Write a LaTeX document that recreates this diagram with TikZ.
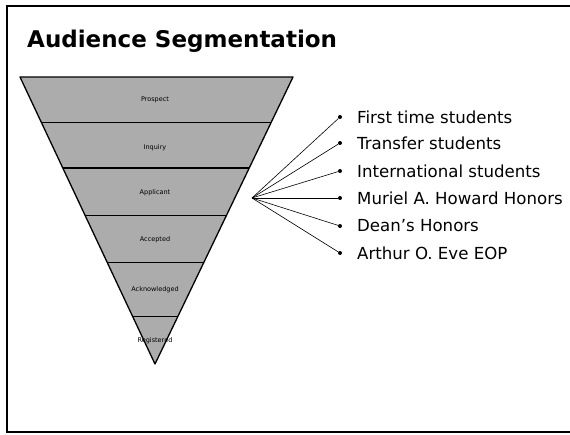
\documentclass[tikz,border=0pt]{standalone}
\usepackage{fontspec}
\setmainfont{DejaVu Sans}
\usetikzlibrary{calc}
\usepackage{xcolor}

\tikzset{
  band/.style={font=\fontsize{6.5}{7}\selectfont, inner sep=0pt},
  item/.style={anchor=west, font=\fontsize{16.6}{19}\selectfont, inner sep=0pt},
  dot/.style={circle, fill=black, inner sep=0pt, minimum size=4pt}
}

\begin{document}
\begin{tikzpicture}[x=1pt, y=-1pt]
    \useasboundingbox (0,0) rectangle (570,434);
    % Moldura
    \draw[line width=1.6pt] (575,6) -- (7,6) -- (7,432) -- (575,432);
    % Titulo
    \node[anchor=base west, inner sep=0pt, font=\bfseries\fontsize{23}{28}\selectfont] (titulo) at (27,47) {Audience Segmentation};
    % Funil
    \coordinate (tl) at (20,77);
    \coordinate (tr) at (293,77);
    \coordinate (apex) at (155,364);
    \filldraw[fill=gray!65, line width=1.3pt, line join=round] (tl) -- (tr) -- (apex) -- cycle;
    \foreach \t in {0.157,0.317,0.481,0.645,0.836}
        \draw[line width=1.1pt] ($(tl)!\t!(apex)$) -- ($(tr)!\t!(apex)$);
    % Etapas
    \node[band] (prospect) at (155,100) {Prospect};
    \node[band] (inquiry) at (155,148) {Inquiry};
    \node[band] (applicant) at (155,193) {Applicant};
    \node[band] (accepted) at (155,240) {Accepted};
    \node[band] (acknowledged) at (155,290) {Acknowledged};
    \node[band] (registered) at (155,341) {Registered};
    % Segmentos
    \coordinate (hub) at (252,198);
    \foreach \y/\nome/\txt in {117/s1/First time students, 143/s2/Transfer students,
        171/s3/International students, 198/s4/Muriel A. Howard Honors,
        226/s5/Dean’s Honors, 253/s6/Arthur O. Eve EOP} {
        \node[dot] (b\nome) at (340,\y) {};
        \node[item] (\nome) at (357,\y) {\txt};
        \draw[line width=0.6pt] (hub) -- (b\nome);
    }
\end{tikzpicture}
\end{document}
